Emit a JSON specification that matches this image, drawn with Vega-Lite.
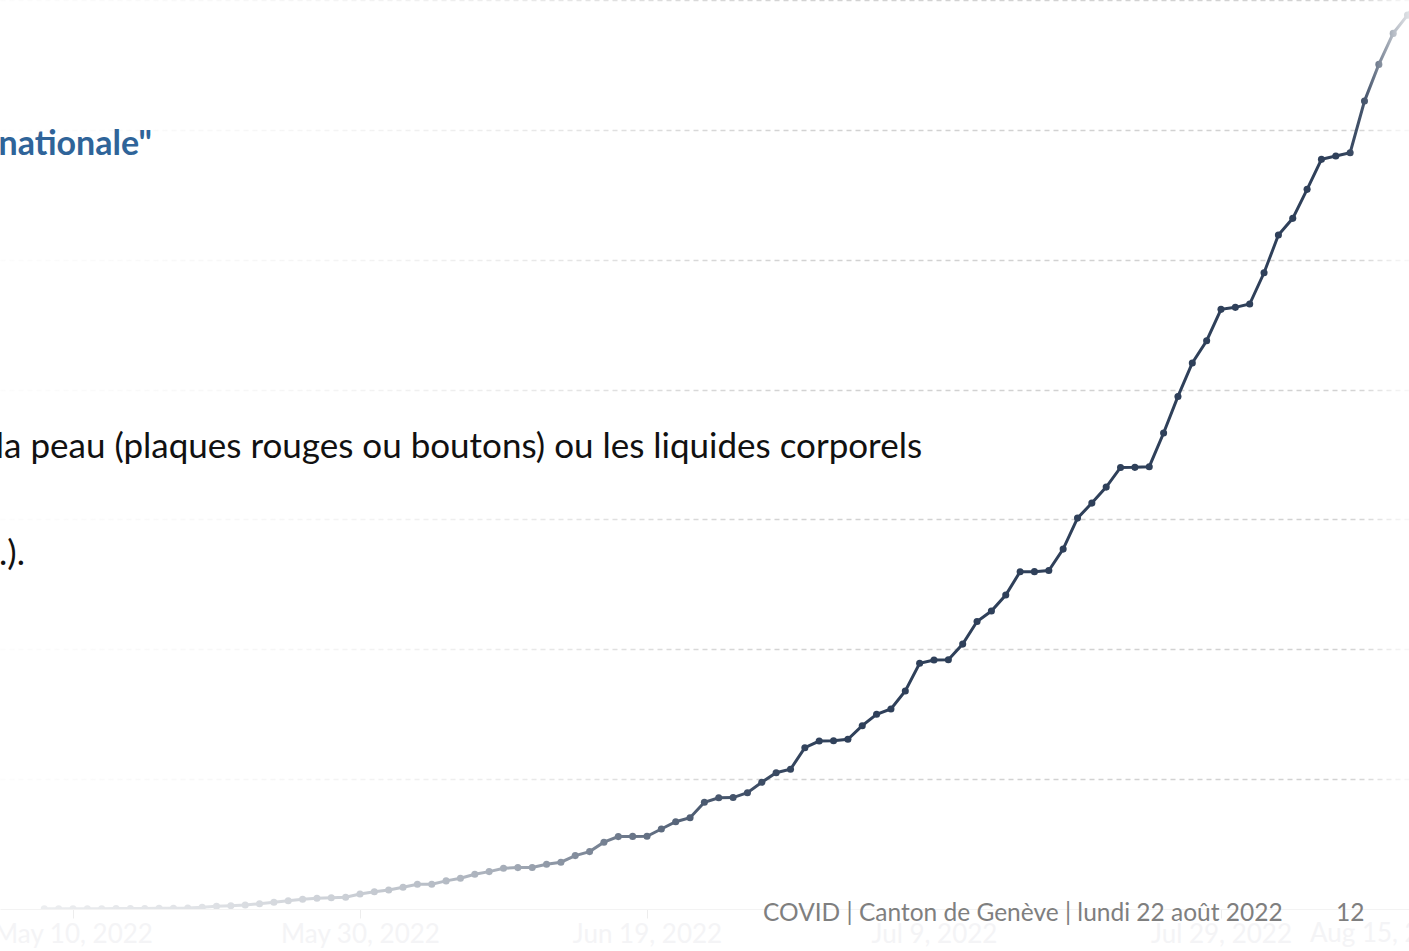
{
  "$schema": "https://vega.github.io/schema/vega-lite/v6.json",
  "autosize": {"type": "none"},
  "padding": {"left": 0, "top": 0, "right": 0, "bottom": 42},
  "width": 1409,
  "height": 909,
  "background": "white",
  "config": {"view": {"stroke": null}, "font": "Lato"},
  "layer": [
    {
      "data": {"values": [
        {"date": "2022-05-08", "cases": 5},
        {"date": "2022-05-09", "cases": 6},
        {"date": "2022-05-10", "cases": 8},
        {"date": "2022-05-11", "cases": 10},
        {"date": "2022-05-12", "cases": 12},
        {"date": "2022-05-13", "cases": 15},
        {"date": "2022-05-14", "cases": 18},
        {"date": "2022-05-15", "cases": 20},
        {"date": "2022-05-16", "cases": 25},
        {"date": "2022-05-17", "cases": 30},
        {"date": "2022-05-18", "cases": 40},
        {"date": "2022-05-19", "cases": 65},
        {"date": "2022-05-20", "cases": 104},
        {"date": "2022-05-21", "cases": 127},
        {"date": "2022-05-22", "cases": 154},
        {"date": "2022-05-23", "cases": 204},
        {"date": "2022-05-24", "cases": 258},
        {"date": "2022-05-25", "cases": 320},
        {"date": "2022-05-26", "cases": 374},
        {"date": "2022-05-27", "cases": 412},
        {"date": "2022-05-28", "cases": 435},
        {"date": "2022-05-29", "cases": 450},
        {"date": "2022-05-30", "cases": 577},
        {"date": "2022-05-31", "cases": 666},
        {"date": "2022-06-01", "cases": 731},
        {"date": "2022-06-02", "cases": 835},
        {"date": "2022-06-03", "cases": 950},
        {"date": "2022-06-04", "cases": 955},
        {"date": "2022-06-05", "cases": 1082},
        {"date": "2022-06-06", "cases": 1186},
        {"date": "2022-06-07", "cases": 1340},
        {"date": "2022-06-08", "cases": 1440},
        {"date": "2022-06-09", "cases": 1571},
        {"date": "2022-06-10", "cases": 1594},
        {"date": "2022-06-11", "cases": 1600},
        {"date": "2022-06-12", "cases": 1725},
        {"date": "2022-06-13", "cases": 1802},
        {"date": "2022-06-14", "cases": 2056},
        {"date": "2022-06-15", "cases": 2210},
        {"date": "2022-06-16", "cases": 2572},
        {"date": "2022-06-17", "cases": 2788},
        {"date": "2022-06-18", "cases": 2795},
        {"date": "2022-06-19", "cases": 2800},
        {"date": "2022-06-20", "cases": 3080},
        {"date": "2022-06-21", "cases": 3361},
        {"date": "2022-06-22", "cases": 3515},
        {"date": "2022-06-23", "cases": 4108},
        {"date": "2022-06-24", "cases": 4285},
        {"date": "2022-06-25", "cases": 4290},
        {"date": "2022-06-26", "cases": 4478},
        {"date": "2022-06-27", "cases": 4879},
        {"date": "2022-06-28", "cases": 5249},
        {"date": "2022-06-29", "cases": 5380},
        {"date": "2022-06-30", "cases": 6211},
        {"date": "2022-07-01", "cases": 6468},
        {"date": "2022-07-02", "cases": 6475},
        {"date": "2022-07-03", "cases": 6534},
        {"date": "2022-07-04", "cases": 7058},
        {"date": "2022-07-05", "cases": 7497},
        {"date": "2022-07-06", "cases": 7700},
        {"date": "2022-07-07", "cases": 8393},
        {"date": "2022-07-08", "cases": 9460},
        {"date": "2022-07-09", "cases": 9587},
        {"date": "2022-07-10", "cases": 9595},
        {"date": "2022-07-11", "cases": 10199},
        {"date": "2022-07-12", "cases": 11070},
        {"date": "2022-07-13", "cases": 11473},
        {"date": "2022-07-14", "cases": 12089},
        {"date": "2022-07-15", "cases": 12986},
        {"date": "2022-07-16", "cases": 12990},
        {"date": "2022-07-17", "cases": 13033},
        {"date": "2022-07-18", "cases": 13857},
        {"date": "2022-07-19", "cases": 15051},
        {"date": "2022-07-20", "cases": 15629},
        {"date": "2022-07-21", "cases": 16245},
        {"date": "2022-07-22", "cases": 17000},
        {"date": "2022-07-23", "cases": 17005},
        {"date": "2022-07-24", "cases": 17030},
        {"date": "2022-07-25", "cases": 18327},
        {"date": "2022-07-26", "cases": 19736},
        {"date": "2022-07-27", "cases": 21022},
        {"date": "2022-07-28", "cases": 21881},
        {"date": "2022-07-29", "cases": 23088},
        {"date": "2022-07-30", "cases": 23166},
        {"date": "2022-07-31", "cases": 23292},
        {"date": "2022-08-01", "cases": 24498},
        {"date": "2022-08-02", "cases": 25949},
        {"date": "2022-08-03", "cases": 26593},
        {"date": "2022-08-04", "cases": 27709},
        {"date": "2022-08-05", "cases": 28864},
        {"date": "2022-08-06", "cases": 28991},
        {"date": "2022-08-07", "cases": 29119},
        {"date": "2022-08-08", "cases": 31108},
        {"date": "2022-08-09", "cases": 32520},
        {"date": "2022-08-10", "cases": 33714},
        {"date": "2022-08-11", "cases": 34419},
        {"date": "2022-08-12", "cases": 35200}
      ]},
      "encoding": {
        "x": {
          "field": "date", "type": "temporal",
          "scale": {"type": "utc", "domain": [
            {"year": 2022, "month": 5, "date": 4, "hours": 21, "minutes": 55, "utc": true},
            {"year": 2022, "month": 8, "date": 11, "hours": 2, "minutes": 25, "utc": true}
          ]},
          "axis": {
            "title": null, "grid": false,
            "values": [
              {"year": 2022, "month": 5, "date": 10, "utc": true},
              {"year": 2022, "month": 5, "date": 30, "utc": true},
              {"year": 2022, "month": 6, "date": 19, "utc": true},
              {"year": 2022, "month": 7, "date": 9, "utc": true},
              {"year": 2022, "month": 7, "date": 29, "utc": true}
            ],
            "format": "%b %-d, %Y",
            "domainColor": "#f3f3f3", "tickColor": "#ededed", "tickSize": 9,
            "labelColor": "#f4f4f6", "labelFont": "Lato", "labelFontSize": 26,
            "labelPadding": 3
          }
        },
        "y": {
          "field": "cases", "type": "quantitative",
          "scale": {"domain": [0, 35000], "nice": false, "zero": true},
          "axis": {
            "title": null, "labels": false, "ticks": false, "domain": false,
            "grid": true, "values": [5000, 10000, 15000, 20000, 25000, 30000, 35000],
            "gridColor": "#d2d2d2", "gridDash": [5, 4], "gridWidth": 1.5
          }
        }
      },
      "layer": [
        {"mark": {"type": "line", "color": "#2f405a", "strokeWidth": 3, "clip": true}},
        {"mark": {"type": "point", "filled": true, "color": "#2f405a", "size": 50, "opacity": 1, "clip": true}}
      ]
    },
    {
      "data": {"values": [{"label": "overlay"}]},
      "mark": {"type": "rect", "clip": true, "fill": {
        "gradient": "linear", "x1": 0, "x2": 1, "y1": 0, "y2": 0,
        "stops": [
          {"offset": 0, "color": "rgba(255,255,255,0.93)"},
          {"offset": 0.031, "color": "rgba(255,255,255,0.91)"},
          {"offset": 0.142, "color": "rgba(255,255,255,0.85)"},
          {"offset": 0.248, "color": "rgba(255,255,255,0.75)"},
          {"offset": 0.355, "color": "rgba(255,255,255,0.58)"},
          {"offset": 0.426, "color": "rgba(255,255,255,0.35)"},
          {"offset": 0.497, "color": "rgba(255,255,255,0.14)"},
          {"offset": 0.568, "color": "rgba(255,255,255,0.02)"},
          {"offset": 0.603, "color": "rgba(255,255,255,0)"},
          {"offset": 0.951, "color": "rgba(255,255,255,0)"},
          {"offset": 0.969, "color": "rgba(255,255,255,0.12)"},
          {"offset": 0.979, "color": "rgba(255,255,255,0.38)"},
          {"offset": 0.989, "color": "rgba(255,255,255,0.65)"},
          {"offset": 1, "color": "rgba(255,255,255,0.85)"}
        ]}},
      "encoding": {
        "x": {"datum": {"year": 2022, "month": 5, "date": 4, "hours": 21, "minutes": 55, "utc": true}, "type": "temporal"},
        "x2": {"datum": {"year": 2022, "month": 8, "date": 11, "hours": 2, "minutes": 25, "utc": true}},
        "y": {"datum": 35000, "type": "quantitative"},
        "y2": {"datum": 0}
      }
    },
    {
      "data": {"values": [{"label": "\"urgence de santé publique de portée internationale\""}]},
      "mark": {"type": "text", "align": "right", "baseline": "alphabetic", "font": "Lato", "fontWeight": "bold", "fontSize": 34, "color": "#2f6499", "clip": false},
      "encoding": {
        "text": {"field": "label"},
        "x": {"datum": {"year": 2022, "month": 5, "date": 15, "hours": 12, "utc": true}, "type": "temporal"},
        "y": {"datum": 29032, "type": "quantitative"}
      }
    },
    {
      "data": {"values": [{"label": "Transmission par contact étroit avec la peau (plaques rouges ou boutons) ou les liquides corporels"}]},
      "mark": {"type": "text", "align": "right", "baseline": "alphabetic", "font": "Lato", "fontSize": 35, "color": "#111111", "clip": false},
      "encoding": {
        "text": {"field": "label"},
        "x": {"datum": {"year": 2022, "month": 7, "date": 8, "hours": 4, "utc": true}, "type": "temporal"},
        "y": {"datum": 17365, "type": "quantitative"}
      }
    },
    {
      "data": {"values": [{"label": "(salive, lésions, etc.)."}]},
      "mark": {"type": "text", "align": "right", "baseline": "alphabetic", "font": "Lato", "fontSize": 35, "color": "#111111", "clip": false},
      "encoding": {
        "text": {"field": "label"},
        "x": {"datum": {"year": 2022, "month": 5, "date": 6, "hours": 15, "minutes": 43, "utc": true}, "type": "temporal"},
        "y": {"datum": 13245, "type": "quantitative"}
      }
    },
    {
      "data": {"values": [{"label": "Aug 15, 2022"}]},
      "mark": {"type": "text", "align": "right", "baseline": "top", "font": "Lato", "fontSize": 26, "color": "#f4f4f6", "clip": false},
      "encoding": {
        "text": {"field": "label"},
        "x": {"datum": {"year": 2022, "month": 8, "date": 15, "utc": true}, "type": "temporal"},
        "y": {"datum": -462, "type": "quantitative"}
      }
    },
    {
      "data": {"values": [{"label": "COVID | Canton de Genève | lundi 22 août 2022"}]},
      "mark": {"type": "text", "align": "left", "baseline": "alphabetic", "font": "Lato", "fontSize": 24.5, "color": "#7f7f7f", "clip": false},
      "encoding": {
        "text": {"field": "label"},
        "x": {"datum": {"year": 2022, "month": 6, "date": 27, "hours": 2, "utc": true}, "type": "temporal"},
        "y": {"datum": -462, "type": "quantitative"}
      }
    },
    {
      "data": {"values": [{"label": "12"}]},
      "mark": {"type": "text", "align": "left", "baseline": "alphabetic", "font": "Lato", "fontSize": 24.5, "color": "#7f7f7f", "clip": false},
      "encoding": {
        "text": {"field": "label"},
        "x": {"datum": {"year": 2022, "month": 8, "date": 6, "hours": 0, "minutes": 15, "utc": true}, "type": "temporal"},
        "y": {"datum": -462, "type": "quantitative"}
      }
    }
  ]
}
